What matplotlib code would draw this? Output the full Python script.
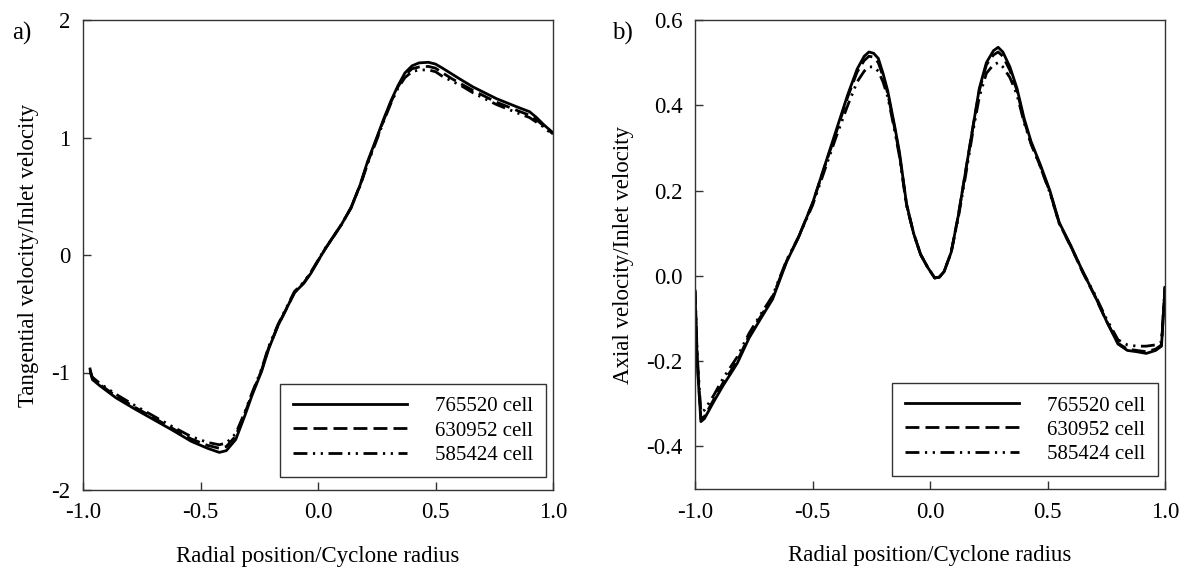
import matplotlib
matplotlib.use("Agg")
import matplotlib.pyplot as plt

plt.rcParams["font.family"] = ["Liberation Serif", "DejaVu Serif"]
plt.rcParams["axes.unicode_minus"] = False

SERIES = ["765520 cell", "630952 cell", "585424 cell"]

# a) tangential velocity profiles
x_a = [-0.97, -0.96, -0.93, -0.86, -0.78, -0.70, -0.62, -0.54, -0.47, -0.42,
       -0.39, -0.35, -0.31, -0.28, -0.24, -0.21, -0.17, -0.13, -0.10, -0.06,
       -0.03, 0.00, 0.03, 0.07, 0.10, 0.14, 0.18, 0.21, 0.25, 0.28,
       0.31, 0.34, 0.37, 0.40, 0.43, 0.47, 0.50, 0.53, 0.57, 0.61,
       0.66, 0.71, 0.76, 0.81, 0.86, 0.90, 0.93, 0.96, 1.00]
tan_765520 = [-0.97, -1.06, -1.11, -1.215, -1.31, -1.40, -1.49, -1.585, -1.645, -1.68,
              -1.665, -1.57, -1.36, -1.19, -0.99, -0.80, -0.60, -0.44, -0.32, -0.24,
              -0.155, -0.05, 0.05, 0.17, 0.26, 0.40, 0.60, 0.79, 1.00, 1.16,
              1.31, 1.44, 1.55, 1.61, 1.635, 1.64, 1.625, 1.59, 1.54, 1.49,
              1.43, 1.38, 1.33, 1.29, 1.25, 1.22, 1.17, 1.11, 1.04]
tan_630952 = [-0.98, -1.05, -1.10, -1.20, -1.295, -1.385, -1.475, -1.565, -1.62, -1.645,
              -1.63, -1.54, -1.34, -1.18, -0.98, -0.79, -0.60, -0.44, -0.32, -0.235,
              -0.15, -0.05, 0.05, 0.17, 0.26, 0.40, 0.60, 0.78, 0.99, 1.15,
              1.30, 1.43, 1.53, 1.585, 1.60, 1.605, 1.59, 1.55, 1.50, 1.455,
              1.40, 1.35, 1.30, 1.26, 1.22, 1.19, 1.15, 1.10, 1.03]
tan_585424 = [-1.00, -1.04, -1.09, -1.185, -1.28, -1.37, -1.46, -1.545, -1.595, -1.615,
              -1.60, -1.52, -1.33, -1.17, -0.97, -0.78, -0.59, -0.43, -0.31, -0.23,
              -0.145, -0.045, 0.055, 0.17, 0.26, 0.40, 0.59, 0.77, 0.98, 1.14,
              1.29, 1.42, 1.51, 1.56, 1.575, 1.575, 1.56, 1.52, 1.48, 1.44,
              1.38, 1.33, 1.28, 1.24, 1.20, 1.17, 1.13, 1.09, 1.02]

# b) axial velocity profiles
x_b = [-1.00, -0.99, -0.975, -0.96, -0.92, -0.88, -0.82, -0.77, -0.72, -0.67,
       -0.61, -0.56, -0.50, -0.45, -0.40, -0.35, -0.31, -0.28, -0.26, -0.24,
       -0.22, -0.20, -0.18, -0.15, -0.13, -0.10, -0.07, -0.04, -0.01, 0.02,
       0.04, 0.06, 0.09, 0.12, 0.15, 0.18, 0.21, 0.24, 0.27, 0.29,
       0.31, 0.34, 0.37, 0.40, 0.43, 0.47, 0.51, 0.55, 0.60, 0.65,
       0.70, 0.75, 0.80, 0.84, 0.88, 0.92, 0.96, 0.985, 1.00]
ax_765520 = [-0.035, -0.21, -0.342, -0.335, -0.295, -0.257, -0.205, -0.146, -0.10, -0.055,
             0.033, 0.09, 0.17, 0.255, 0.34, 0.425, 0.485, 0.515, 0.525, 0.522,
             0.51, 0.475, 0.434, 0.35, 0.29, 0.169, 0.10, 0.05, 0.02, -0.005,
             -0.003, 0.01, 0.055, 0.14, 0.24, 0.34, 0.44, 0.50, 0.528, 0.536,
             0.525, 0.49, 0.44, 0.37, 0.315, 0.26, 0.20, 0.125, 0.07, 0.01,
             -0.045, -0.105, -0.16, -0.175, -0.178, -0.182, -0.175, -0.165, -0.027]
ax_630952 = [-0.035, -0.20, -0.335, -0.33, -0.29, -0.25, -0.20, -0.14, -0.095, -0.05,
             0.035, 0.09, 0.17, 0.253, 0.335, 0.42, 0.478, 0.505, 0.515, 0.513,
             0.50, 0.468, 0.428, 0.345, 0.285, 0.168, 0.10, 0.05, 0.02, -0.005,
             -0.003, 0.01, 0.055, 0.14, 0.24, 0.34, 0.435, 0.495, 0.518, 0.525,
             0.515, 0.482, 0.435, 0.365, 0.31, 0.256, 0.197, 0.123, 0.068, 0.008,
             -0.046, -0.105, -0.158, -0.172, -0.175, -0.178, -0.172, -0.162, -0.027]
ax_585424 = [-0.035, -0.19, -0.32, -0.315, -0.28, -0.24, -0.19, -0.135, -0.09, -0.047,
             0.037, 0.09, 0.165, 0.245, 0.325, 0.40, 0.455, 0.48, 0.49, 0.49,
             0.48, 0.455, 0.42, 0.34, 0.28, 0.165, 0.10, 0.05, 0.02, -0.005,
             -0.003, 0.01, 0.055, 0.135, 0.23, 0.33, 0.42, 0.475, 0.495, 0.50,
             0.49, 0.465, 0.425, 0.36, 0.31, 0.255, 0.195, 0.123, 0.068, 0.01,
             -0.042, -0.10, -0.15, -0.162, -0.165, -0.165, -0.162, -0.155, -0.027]

x_ticks = [-1.0, -0.5, 0.0, 0.5, 1.0]
ya_ticks = [-2, -1, 0, 1, 2]
yb_ticks = [-0.4, -0.2, 0.0, 0.2, 0.4, 0.6]

STYLES = [
    dict(linestyle="-"),
    dict(linestyle=(0, (5, 2.2))),
    dict(linestyle=(0, (5, 2, 0.8, 2, 0.8, 2))),
]

fig = plt.figure(figsize=(11.86, 5.70), dpi=100)
ax1 = fig.add_axes([83 / 1186, 80 / 570, 470 / 1186, 470 / 570])
ax2 = fig.add_axes([695 / 1186, 81 / 570, 470 / 1186, 469 / 570])


def style_axes(ax, ylim, yticks, yfmt, ylabel, labelpad):
    ax.set_xlim(-1.0, 1.0)
    ax.set_ylim(*ylim)
    ax.set_xticks(x_ticks)
    ax.set_xticklabels([f"{v:.1f}" for v in x_ticks])
    ax.set_yticks(yticks)
    ax.set_yticklabels([yfmt.format(v) for v in yticks])
    ax.tick_params(direction="in", length=6, width=1, labelsize=16.5, pad=9,
                   top=False, right=False, color="#333333")
    for s in ax.spines.values():
        s.set_color("#333333")
        s.set_linewidth(1.0)
    ax.set_xlabel("Radial position/Cyclone radius", fontsize=16.5, labelpad=16)
    ax.set_ylabel(ylabel, fontsize=16.5, labelpad=labelpad)
    leg = ax.legend(loc="lower right", bbox_to_anchor=(0.985, 0.027), borderaxespad=0,
                    fontsize=15, frameon=True, fancybox=False, framealpha=1,
                    handlelength=5.5, handletextpad=1.35, labelspacing=0.22,
                    borderpad=0.6)
    leg.get_frame().set_edgecolor("#333333")
    leg.get_frame().set_linewidth(1.0)


for ys, lbl, st in zip([tan_765520, tan_630952, tan_585424], SERIES, STYLES):
    ax1.plot(x_a, ys, color="black", lw=2.0, label=lbl, **st)
for ys, lbl, st in zip([ax_765520, ax_630952, ax_585424], SERIES, STYLES):
    ax2.plot(x_b, ys, color="black", lw=2.0, label=lbl, **st)

style_axes(ax1, (-2, 2), ya_ticks, "{:d}", "Tangential velocity/Inlet velocity", 9)
style_axes(ax2, (-0.5, 0.6), yb_ticks, "{:.1f}", "Axial velocity/Inlet velocity", 9)

fig.text(12 / 1186, 1 - 40 / 570, "a)", fontsize=18, va="baseline")
fig.text(612 / 1186, 1 - 40 / 570, "b)", fontsize=18, va="baseline")

fig.savefig("out.png", dpi=100)
